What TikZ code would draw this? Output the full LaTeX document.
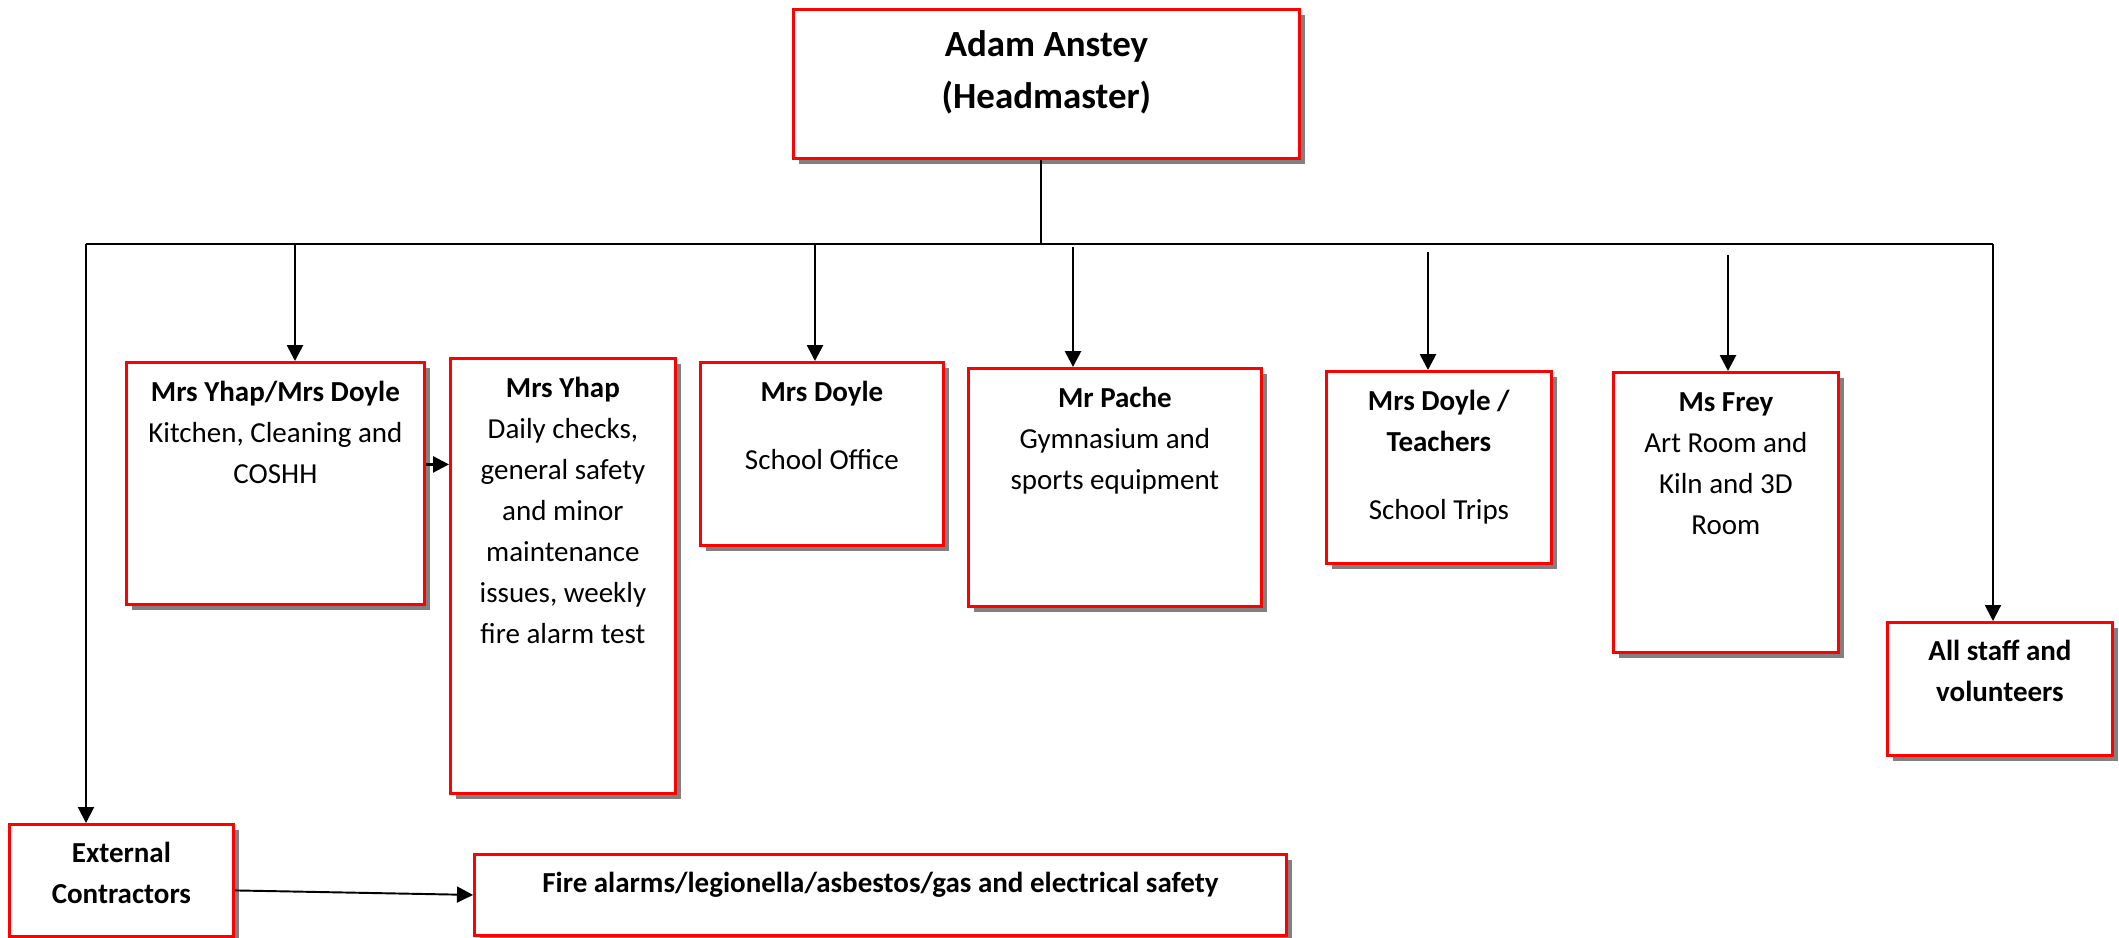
\documentclass[tikz,border=0pt]{standalone}
\usepackage{fontspec}
\setmainfont{Carlito}
\usetikzlibrary{arrows.meta,shadows}

\tikzset{
  unit/.style={draw=red, line width=0.8pt, fill=white, inner sep=0pt, anchor=north west,
    drop shadow={shadow xshift=0.06cm, shadow yshift=-0.06cm, fill=gray, opacity=1}},
  link/.style={line width=0.55pt},
  down/.style={line width=0.75pt, -{Triangle[length=0.16cm, width=0.16cm]}}
}
\newcommand{\cell}[4][0.39cm]{\parbox[t][#3][t]{#2}{\centering\rule{0pt}{#1}#4}}

\begin{document}
\begin{tikzpicture}[font=\fontsize{8.25pt}{11.67pt}\selectfont]
	\useasboundingbox (0,0) rectangle (21.19,-9.37);
	
	\node[unit, font=\fontsize{10.5pt}{14.8pt}\selectfont\bfseries] (head) at (7.92,-0.08)
		{\cell[0.47cm]{5.06cm}{1.49cm}{Adam Anstey\\(Headmaster)}};
	
	\node[unit] (kitchen) at (1.25,-3.61) {\cell{2.98cm}{2.42cm}{\textbf{Mrs Yhap/Mrs Doyle}\\Kitchen, Cleaning and\\COSHH}};
	\node[unit] (checks) at (4.49,-3.57) {\cell{2.25cm}{4.35cm}{\textbf{Mrs Yhap}\\Daily checks,\\general safety\\and minor\\maintenance\\issues, weekly\\fire alarm test}};
	\node[unit] (office) at (6.99,-3.61) {\cell{2.43cm}{1.83cm}{\textbf{Mrs Doyle}\\[0.27cm]School Office}};
	\node[unit] (gym) at (9.67,-3.67) {\cell{2.93cm}{2.38cm}{\textbf{Mr Pache}\\Gymnasium and\\sports equipment}};
	\node[unit] (trips) at (13.25,-3.70) {\cell{2.25cm}{1.92cm}{\textbf{Mrs Doyle /}\\\textbf{Teachers}\\[0.27cm]School Trips}};
	\node[unit] (art) at (16.12,-3.71) {\cell{2.25cm}{2.80cm}{\textbf{Ms Frey}\\Art Room and\\Kiln and 3D\\Room}};
	\node[unit] (staff) at (18.86,-6.21) {\cell[0.38cm]{2.25cm}{1.33cm}{\textbf{All staff and}\\\textbf{volunteers}}};
	
	\node[unit] (ext) at (0.08,-8.23) {\cell[0.38cm]{2.24cm}{1.12cm}{\textbf{External}\\\textbf{Contractors}}};
	\node[unit] (fire) at (4.73,-8.53) {\cell[0.38cm]{8.12cm}{0.81cm}{\textbf{Fire alarms/legionella/asbestos/gas and electrical safety}}};
	
	\coordinate (lc) at (0.86,-2.44);
	\coordinate (rc) at (19.93,-2.44);
	\coordinate (stem) at (10.41,-2.44);
	\coordinate (a1) at (2.95,-2.45);
	\coordinate (a2) at (8.15,-2.45);
	\coordinate (a3) at (10.73,-2.47);
	\coordinate (a4) at (14.28,-2.52);
	\coordinate (a5) at (17.28,-2.55);
	
	\draw[link] (stem |- head.south) -- (stem);
	\draw[link] (lc) -- (rc);
	\draw[down, line width=0.55pt] (lc) -- (lc |- ext.north);
	\draw[down, line width=0.55pt] (rc) -- (rc |- staff.north);
	\foreach \a/\b in {a1/kitchen, a2/office, a3/gym, a4/trips, a5/art}
		\draw[down] (\a) -- (\a |- \b.north);
	
	\draw[down] ([yshift=0.19cm]kitchen.east) -- ([yshift=0.19cm]kitchen.east -| checks.west);
	\draw[down, line width=0.55pt] ([yshift=-0.1cm]ext.east) -- (fire.west);
	
\end{tikzpicture}
\end{document}
